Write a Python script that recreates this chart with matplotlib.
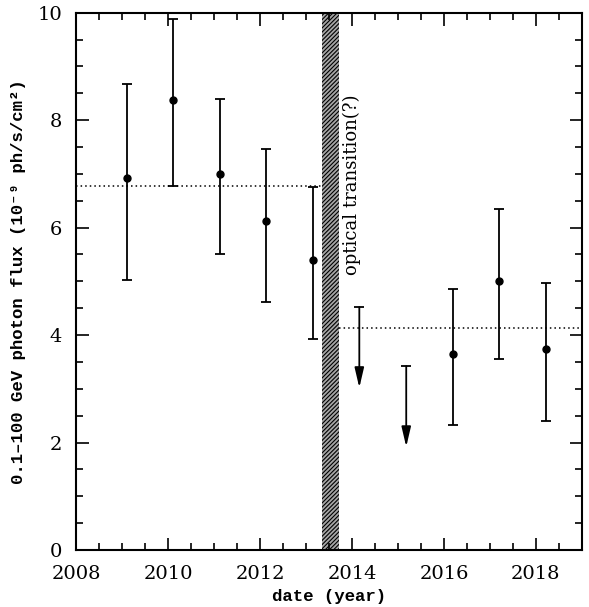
import matplotlib
matplotlib.use("Agg")
import matplotlib.pyplot as plt
from matplotlib.ticker import MultipleLocator

plt.rcParams["font.family"] = ["DejaVu Serif"]
plt.rcParams["hatch.linewidth"] = 0.8

# detections: date, flux, error bar ends (10^-9 ph/s/cm^2)
years = [2009.11, 2010.11, 2011.13, 2012.14, 2013.15, 2016.19, 2017.20, 2018.21]
flux = [6.92, 8.38, 7.00, 6.13, 5.40, 3.65, 5.01, 3.74]
flux_hi = [8.68, 9.88, 8.40, 7.47, 6.76, 4.85, 6.35, 4.96]
flux_lo = [5.03, 6.78, 5.50, 4.62, 3.92, 2.33, 3.56, 2.40]

# upper limits
ul_years = [2014.16, 2015.18]
ul_values = [4.52, 3.42]

# mean flux before / after the transition
mean_before = 6.77
mean_after = 4.13
transition = (2013.35, 2013.72)

XMIN, XMAX = 2008, 2019
ARROW_LEN = 1.5
LABEL_FONT = ["Liberation Mono", "DejaVu Sans Mono"]


def main() -> None:
    fig = plt.figure(figsize=(5.89, 6.07), dpi=100)
    ax = fig.add_axes([0.129, 0.094, 0.859, 0.885])

    ax.axvspan(*transition, facecolor="0.65", edgecolor="black",
               hatch="////////", linewidth=0, zorder=1)

    ax.hlines(mean_before, XMIN, transition[0], colors="black",
              linestyles=(0, (1, 2)), linewidth=1.1)
    ax.hlines(mean_after, transition[1], XMAX, colors="black",
              linestyles=(0, (1, 2)), linewidth=1.1)

    yerr = [[f - lo for f, lo in zip(flux, flux_lo)],
            [hi - f for f, hi in zip(flux, flux_hi)]]
    ax.errorbar(years, flux, yerr=yerr, fmt="o", color="black",
                markersize=5, elinewidth=1.3, capsize=3.5,
                capthick=1.3, zorder=3)

    for x, y in zip(ul_years, ul_values):
        ax.plot([x], [y], marker="_", markersize=7, mew=1.3, color="black")
        ax.annotate("", xy=(x, y - ARROW_LEN), xytext=(x, y),
                    arrowprops=dict(arrowstyle="-|>,head_length=1.2,head_width=0.28",
                                    color="black", lw=1.3, shrinkA=0, shrinkB=0))

    ax.text(2013.99, 8.47, "optical transition(?)", rotation=90,
            ha="center", va="top", fontsize=13)

    ax.set_xlim(XMIN, XMAX)
    ax.set_ylim(0, 10)
    ax.xaxis.set_major_locator(MultipleLocator(2))
    ax.xaxis.set_minor_locator(MultipleLocator(0.5))
    ax.yaxis.set_major_locator(MultipleLocator(2))
    ax.yaxis.set_minor_locator(MultipleLocator(0.5))
    ax.tick_params(which="both", direction="in", top=True, right=True,
                   width=1.2, labelsize=14)
    ax.tick_params(which="major", length=9)
    ax.tick_params(which="minor", length=5)
    ax.tick_params(axis="x", pad=11)
    ax.tick_params(axis="y", pad=10)
    for spine in ax.spines.values():
        spine.set_linewidth(1.5)

    ax.set_xlabel("date (year)", fontsize=12.5, family=LABEL_FONT,
                  fontweight="bold", labelpad=4)
    ax.set_ylabel("0.1\u2013100 GeV photon flux (10\u207b\u2079 ph/s/cm\u00b2)",
                  fontsize=12.5, family=LABEL_FONT, fontweight="bold",
                  labelpad=8.5)

    fig.savefig("out.png", dpi=100)
    plt.close(fig)


if __name__ == "__main__":
    main()
